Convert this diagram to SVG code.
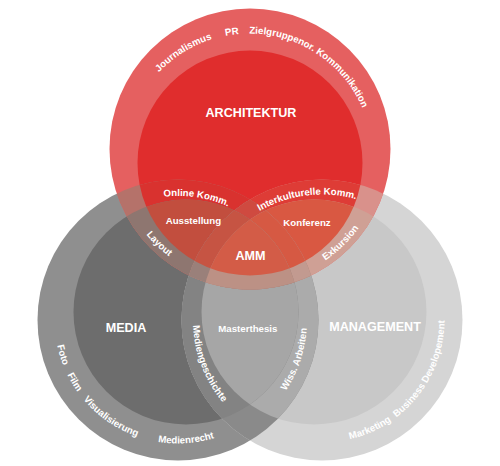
<svg xmlns="http://www.w3.org/2000/svg" width="500" height="466" viewBox="0 0 500 466">
<style>
.t{font-family:"Liberation Sans",Arial,Helvetica,sans-serif;font-weight:bold;fill:#ffffff;text-anchor:middle}
.ttl{font-size:12.6px}
.lbl{font-size:9.7px}
</style>
<defs>
<clipPath id="cRO"><circle cx="250" cy="149" r="140.5"/></clipPath>
<clipPath id="cRI"><circle cx="250" cy="163" r="112.5"/></clipPath>
<clipPath id="cMO"><circle cx="178" cy="320" r="140.5"/></clipPath>
<clipPath id="cMI"><circle cx="186" cy="312" r="112.5"/></clipPath>
<clipPath id="cGO"><circle cx="322" cy="320" r="140.5"/></clipPath>
<clipPath id="cGI"><circle cx="314" cy="312" r="112.5"/></clipPath>
<path id="pRedTop" d="M125.5,157 A123.5,123.5 0 1 1 372.5,157 A123.5,123.5 0 1 1 125.5,157"/>
<path id="pRedLow" d="M250,14.5 A134.5,134.5 0 1 0 250,283.5 A134.5,134.5 0 1 0 250,14.5"/>
<path id="pMedRing" d="M178,196.5 A123.5,123.5 0 1 0 178,443.5 A123.5,123.5 0 1 0 178,196.5"/>
<path id="pMgmtRing" d="M322,197.5 A122.5,122.5 0 1 0 322,442.5 A122.5,122.5 0 1 0 322,197.5"/>
<path id="pMedGesch" d="M322,191 A129,129 0 1 0 322,449 A129,129 0 1 0 322,191"/>
<path id="pWiss" d="M178,191 A129,129 0 1 0 178,449 A129,129 0 1 0 178,191"/>
<path id="pOnline" d="M54,320 A124,124 0 1 1 302,320 A124,124 0 1 1 54,320"/>
<path id="pInter" d="M196.5,320 A125.5,125.5 0 1 1 447.5,320 A125.5,125.5 0 1 1 196.5,320"/>
</defs>

<g id="media">
<circle cx="178" cy="320" r="140.5" fill="#8F8F8F"/>
<circle cx="186" cy="312" r="112.5" fill="#6D6D6D"/>
</g>
<g id="management">
<circle cx="322" cy="320" r="140.5" fill="#D5D5D5"/>
<circle cx="314" cy="312" r="112.5" fill="#C8C8C8"/>
</g>
<g id="architektur">
<circle cx="250" cy="149" r="140.5" fill="#E56060"/>
<circle cx="250" cy="163" r="112.5" fill="#E02D2D"/>
</g>

<g id="overlaps">
<g id="media-management" clip-path="url(#cMO)">
<circle cx="322" cy="320" r="140.5" fill="#8A8A8A"/>
<circle cx="314" cy="312" r="112.5" fill="#ABABAB"/>
<g clip-path="url(#cMI)">
<circle cx="322" cy="320" r="140.5" fill="#838383"/>
<circle cx="314" cy="312" r="112.5" fill="#A6A6A6"/>
</g>
</g>
<g id="architektur-media" clip-path="url(#cMO)">
<circle cx="250" cy="149" r="140.5" fill="#B5726A"/>
<circle cx="250" cy="163" r="112.5" fill="#D9322F"/>
<g clip-path="url(#cMI)">
<circle cx="250" cy="149" r="140.5" fill="#8E7670"/>
<circle cx="250" cy="163" r="112.5" fill="#C24E3E"/>
</g>
</g>
<g id="architektur-management" clip-path="url(#cGO)">
<circle cx="250" cy="149" r="140.5" fill="#D9918B"/>
<circle cx="250" cy="163" r="112.5" fill="#DE3C36"/>
<g clip-path="url(#cGI)">
<circle cx="250" cy="149" r="140.5" fill="#CFA095"/>
<circle cx="250" cy="163" r="112.5" fill="#D95842"/>
</g>
</g>
<g id="amm-area" clip-path="url(#cMO)">
<g clip-path="url(#cGO)">
<circle cx="250" cy="149" r="140.5" fill="#A88078"/>
<circle cx="250" cy="163" r="112.5" fill="#CF4A40"/>
<g clip-path="url(#cGI)">
<circle cx="250" cy="149" r="140.5" fill="#C29A90"/>
<circle cx="250" cy="163" r="112.5" fill="#D65943"/>
</g>
</g>
<g clip-path="url(#cMI)">
<g clip-path="url(#cGO)">
<circle cx="250" cy="149" r="140.5" fill="#9A807A"/>
<circle cx="250" cy="163" r="112.5" fill="#C65443"/>
<g clip-path="url(#cGI)">
<circle cx="250" cy="149" r="140.5" fill="#BC9185"/>
<circle cx="250" cy="163" r="112.5" fill="#D35C47"/>
</g>
</g>
</g>
</g>
</g>

<g id="architektur-labels" class="t">
<text class="ttl" x="251" y="117.3">ARCHITEKTUR</text>
<text class="lbl"><textPath href="#pRedTop" startOffset="124.8">Journalismus</textPath></text>
<text class="lbl"><textPath href="#pRedTop" startOffset="177">PR</textPath></text>
<text class="lbl"><textPath href="#pRedTop" startOffset="265.8">Zielgruppenor. Kommunikation</textPath></text>
<text class="lbl"><textPath href="#pOnline" startOffset="213.4">Online Komm.</textPath></text>
<text class="lbl"><textPath href="#pInter" startOffset="181.6">Interkulturelle Komm.</textPath></text>
<text class="lbl" x="193.4" y="224">Ausstellung</text>
<text class="lbl" x="307" y="225.5">Konferenz</text>
<text class="lbl"><textPath href="#pRedLow" startOffset="319.7">Layout</textPath></text>
<text class="lbl"><textPath href="#pRedLow" startOffset="525.6">Exkursion</textPath></text>
<text class="ttl" x="250.5" y="259.5">AMM</text>
</g>
<g id="media-labels" class="t">
<text class="ttl" x="126" y="332">MEDIA</text>
<text class="lbl"><textPath href="#pMedRing" startOffset="230.2">Foto</textPath></text>
<text class="lbl"><textPath href="#pMedRing" startOffset="260.6">Film</textPath></text>
<text class="lbl"><textPath href="#pMedRing" startOffset="313">Visualisierung</textPath></text>
<text class="lbl"><textPath href="#pMedRing" startOffset="396.2">Medienrecht</textPath></text>
<text class="lbl"><textPath href="#pMedGesch" startOffset="249.9">Mediengeschichte</textPath></text>
<text class="lbl" x="247.8" y="331.7">Masterthesis</text>
</g>
<g id="management-labels" class="t">
<text class="ttl" x="375" y="331">MANAGEMENT</text>
<text class="lbl"><textPath href="#pWiss" startOffset="566">Wiss. Arbeiten</textPath></text>
<text class="lbl"><textPath href="#pMgmtRing" startOffset="435.7">Marketing</textPath></text>
<text class="lbl"><textPath href="#pMgmtRing" startOffset="520.6">Business Developement</textPath></text>
</g>
</svg>
